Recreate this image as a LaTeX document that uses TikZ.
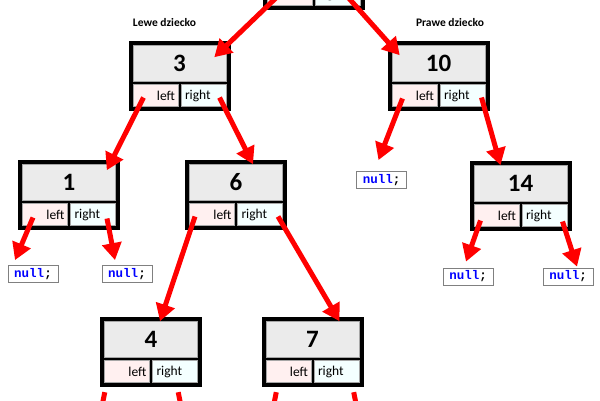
\documentclass[tikz,border=0pt]{standalone}
\usepackage{fontspec}
\setmainfont{Carlito}
\setmonofont{Liberation Mono}
\usetikzlibrary{arrows.meta,positioning}

\definecolor{valgray}{HTML}{EBEBEB}
\definecolor{leftpink}{HTML}{FFF0F0}
\definecolor{rightcyan}{HTML}{F4FFFF}
\definecolor{nullblue}{HTML}{0000FF}

\begin{document}
\begin{tikzpicture}[
        x=1pt, y=-1pt,
        % Block styles
        treenode/.style={
            rectangle,
            fill=black,
            minimum width=102pt,
            minimum height=70pt,
            inner sep=0pt
        },
        valbox/.style={
            rectangle,
            fill=valgray,
            draw=black!35,
            line width=0.6pt,
            minimum width=93pt,
            minimum height=36pt,
            inner sep=0pt,
            font=\fontsize{25}{25}\selectfont\bfseries
        },
        leftcell/.style={
            rectangle,
            fill=leftpink,
            draw=black!35,
            line width=0.6pt,
            minimum height=22pt,
            text width=39pt,
            inner xsep=3pt,
            inner ysep=0pt,
            align=right,
            font=\fontsize{13.5}{14}\selectfont
        },
        rightcell/.style={
            leftcell,
            fill=rightcyan,
            text width=37pt,
            inner xsep=4pt,
            align=left
        },
        nullbox/.style={
            rectangle,
            draw=black!50,
            fill=white,
            line width=0.8pt,
            minimum width=50pt,
            minimum height=17pt,
            inner sep=0pt,
            font=\fontsize{12.5}{13}\selectfont\ttfamily\bfseries
        },
        link/.style={draw=red, line width=5pt, -{Triangle[length=17pt,width=19pt]}},
        heading/.style={font=\fontsize{11.5}{12}\selectfont\bfseries}
    ]

    \useasboundingbox (0,0) rectangle (600,400);
    \clip (0,0) rectangle (600,400);

    % Root (cut off at the top)
    \node[treenode] (rt) at (313.5,-25) {};
    \node[valbox] (rtv) at ([yshift=12.5pt]rt.center) {};
    \node[leftcell] (rtl) at ([xshift=-24pt,yshift=-19.5pt]rt.center) {left};
    \node[rightcell] (rtr) at ([xshift=24pt,yshift=-19.5pt]rt.center) {right};

    % Headings
    \node[heading] (lewe) at (164.5,23) {Lewe dziecko};
    \node[heading] (prawe) at (450,23) {Prawe dziecko};

    % Node 3
    \node[treenode] (n3) at (179.5,76) {};
    \node[valbox] (n3v) at ([yshift=12.5pt]n3.center) {3};
    \node[leftcell] (n3l) at ([xshift=-24pt,yshift=-19.5pt]n3.center) {left};
    \node[rightcell] (n3r) at ([xshift=24pt,yshift=-19.5pt]n3.center) {right};

    % Node 10
    \node[treenode] (n10) at (438.5,76) {};
    \node[valbox] (n10v) at ([yshift=12.5pt]n10.center) {10};
    \node[leftcell] (n10l) at ([xshift=-24pt,yshift=-19.5pt]n10.center) {left};
    \node[rightcell] (n10r) at ([xshift=24pt,yshift=-19.5pt]n10.center) {right};

    % Node 1
    \node[treenode] (n1) at (69,195) {};
    \node[valbox] (n1v) at ([yshift=12.5pt]n1.center) {1};
    \node[leftcell] (n1l) at ([xshift=-24pt,yshift=-19.5pt]n1.center) {left};
    \node[rightcell] (n1r) at ([xshift=24pt,yshift=-19.5pt]n1.center) {right};

    % Node 6
    \node[treenode] (n6) at (236,195) {};
    \node[valbox] (n6v) at ([yshift=12.5pt]n6.center) {6};
    \node[leftcell] (n6l) at ([xshift=-24pt,yshift=-19.5pt]n6.center) {left};
    \node[rightcell] (n6r) at ([xshift=24pt,yshift=-19.5pt]n6.center) {right};

    % Node 14
    \node[treenode] (n14) at (520.5,196) {};
    \node[valbox] (n14v) at ([yshift=12.5pt]n14.center) {14};
    \node[leftcell] (n14l) at ([xshift=-24pt,yshift=-19.5pt]n14.center) {left};
    \node[rightcell] (n14r) at ([xshift=24pt,yshift=-19.5pt]n14.center) {right};

    % Node 4
    \node[treenode] (n4) at (151,352) {};
    \node[valbox] (n4v) at ([yshift=12.5pt]n4.center) {4};
    \node[leftcell] (n4l) at ([xshift=-24pt,yshift=-19.5pt]n4.center) {left};
    \node[rightcell] (n4r) at ([xshift=24pt,yshift=-19.5pt]n4.center) {right};

    % Node 7
    \node[treenode] (n7) at (312.5,352) {};
    \node[valbox] (n7v) at ([yshift=12.5pt]n7.center) {7};
    \node[leftcell] (n7l) at ([xshift=-24pt,yshift=-19.5pt]n7.center) {left};
    \node[rightcell] (n7r) at ([xshift=24pt,yshift=-19.5pt]n7.center) {right};

    % Empty children
    \node[nullbox] (nla) at (33,274) {\textcolor{nullblue}{null};};
    \node[nullbox] (nlb) at (127,274) {\textcolor{nullblue}{null};};
    \node[nullbox] (nlc) at (381.5,180) {\textcolor{nullblue}{null};};
    \node[nullbox] (nld) at (468,276.5) {\textcolor{nullblue}{null};};
    \node[nullbox] (nle) at (568,276.5) {\textcolor{nullblue}{null};};

    % Connections
    \draw[link] ([xshift=-10pt]rtl.center) -- ([xshift=-12pt,yshift=-12pt]n3v.north east);
    \draw[link] ([xshift=8pt]rtr.center) -- ([xshift=8pt,yshift=-10pt]n10v.north west);

    \draw[link] ([xshift=-12pt,yshift=-2pt]n3l.center) -- ([xshift=-9pt,yshift=-6pt]n1v.north east);
    \draw[link] ([xshift=16pt,yshift=-2pt]n3r.center) -- ([xshift=17pt]n6v.north);

    \draw[link] ([xshift=-12pt,yshift=-3pt]n10l.center) -- ([xshift=-3pt,yshift=11pt]nlc.north);
    \draw[link] ([xshift=19pt,yshift=-2pt]n10r.center) -- ([xshift=-20pt]n14v.north);

    \draw[link] ([xshift=-12pt,yshift=-3pt]n1l.center) -- ([xshift=-18pt,yshift=5pt]nla.north);
    \draw[link] ([xshift=14pt,yshift=-4pt]n1r.center) -- ([xshift=-12pt,yshift=5pt]nlb.north);

    \draw[link] ([xshift=-17pt,yshift=-2pt]n6l.center) -- ([xshift=9pt]n4v.north);
    \draw[link] ([xshift=18pt,yshift=-2pt]n6r.center) -- ([xshift=27pt]n7v.north);

    \draw[link] ([xshift=-16pt,yshift=-5pt]n14l.center) -- ([xshift=-2pt,yshift=6pt]nld.north);
    \draw[link] ([xshift=18pt,yshift=-6pt]n14r.center) -- ([xshift=9pt,yshift=1pt]nle.north);

    % Links leaving the bottom edge
    \draw[link] ([xshift=5pt,yshift=-5pt]n4.south west) -- ++(-6,30);
    \draw[link] ([xshift=-24pt,yshift=-5pt]n4.south east) -- ++(6,30);
    \draw[link] ([xshift=15pt,yshift=-5pt]n7.south west) -- ++(-6,30);
    \draw[link] ([xshift=-10pt,yshift=-5pt]n7.south east) -- ++(6,30);

\end{tikzpicture}
\end{document}
